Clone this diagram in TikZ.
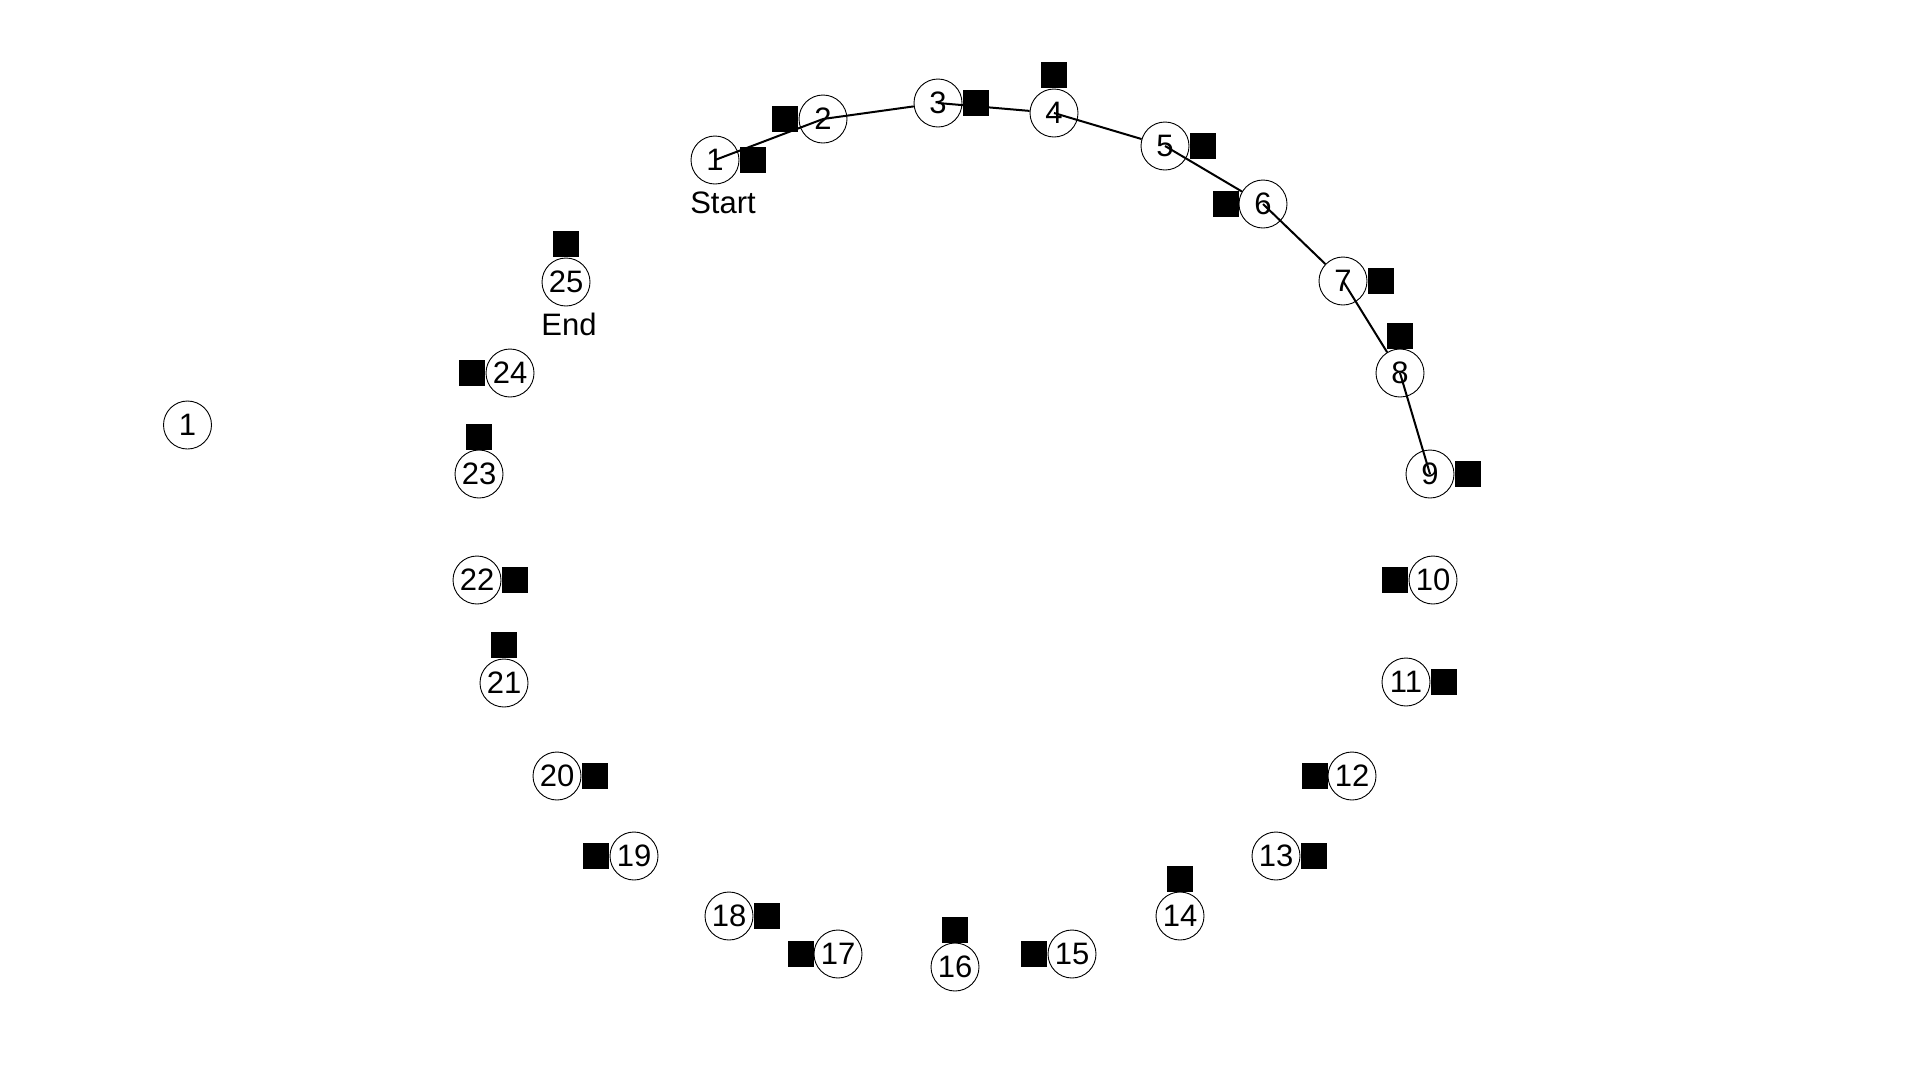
\documentclass[tikz,border=0pt]{standalone}
\usepackage{fontspec}
\setmainfont{Liberation Sans}
\tikzset{
  city/.style={circle, draw, line width=0.9pt, fill=white, minimum size=48pt, inner sep=0pt, font=\fontsize{31}{36}\selectfont},
  flag/.style={rectangle, fill=black, minimum size=25.5pt, inner sep=0pt},
  hop/.style={line width=2pt},
  tag/.style={inner sep=0pt, font=\fontsize{31}{36}\selectfont}
}
\begin{document}
\begin{tikzpicture}[x=1pt, y=-1pt]
            \useasboundingbox (0,0) rectangle (1920,1080);
            % squares
            \node[flag] (s1) at (753, 160) {};
            \node[flag] (s2) at (785, 119) {};
            \node[flag] (s3) at (976, 103) {};
            \node[flag] (s4) at (1054, 75) {};
            \node[flag] (s5) at (1203, 146) {};
            \node[flag] (s6) at (1226, 204) {};
            \node[flag] (s7) at (1381, 281) {};
            \node[flag] (s8) at (1400, 336) {};
            \node[flag] (s9) at (1468, 474) {};
            \node[flag] (s10) at (1395, 580) {};
            \node[flag] (s11) at (1444, 682) {};
            \node[flag] (s12) at (1315, 776) {};
            \node[flag] (s13) at (1314, 856) {};
            \node[flag] (s14) at (1180, 879) {};
            \node[flag] (s15) at (1034, 954) {};
            \node[flag] (s16) at (955, 930) {};
            \node[flag] (s17) at (801, 954) {};
            \node[flag] (s18) at (767, 916) {};
            \node[flag] (s19) at (596, 856) {};
            \node[flag] (s20) at (595, 776) {};
            \node[flag] (s21) at (504, 645) {};
            \node[flag] (s22) at (515, 580) {};
            \node[flag] (s23) at (479, 437) {};
            \node[flag] (s24) at (472, 373) {};
            \node[flag] (s25) at (566, 244) {};
            % cities
            \node[city] (n1) at (715, 160) {1};
            \node[city] (n2) at (823, 119) {2};
            \node[city] (n3) at (938, 103) {3};
            \node[city] (n4) at (1054, 113) {4};
            \node[city] (n5) at (1165, 146) {5};
            \node[city] (n6) at (1263, 204) {6};
            \node[city] (n7) at (1343, 281) {7};
            \node[city] (n8) at (1400, 373) {8};
            \node[city] (n9) at (1430, 474) {9};
            \node[city] (n10) at (1433, 580) {10};
            \node[city] (n11) at (1406, 682) {11};
            \node[city] (n12) at (1352, 776) {12};
            \node[city] (n13) at (1276, 856) {13};
            \node[city] (n14) at (1180, 916) {14};
            \node[city] (n15) at (1072, 954) {15};
            \node[city] (n16) at (955, 967) {16};
            \node[city] (n17) at (838, 954) {17};
            \node[city] (n18) at (729, 916) {18};
            \node[city] (n19) at (634, 856) {19};
            \node[city] (n20) at (557, 776) {20};
            \node[city] (n21) at (504, 683) {21};
            \node[city] (n22) at (477, 580) {22};
            \node[city] (n23) at (479, 474) {23};
            \node[city] (n24) at (510, 373) {24};
            \node[city] (n25) at (566, 282) {25};
            \node[city] (lone) at (187.5, 425) {1};
            \node[tag] (start) at (723, 203) {Start};
            \node[tag] (end) at (569, 324) {End};
            % tour so far
            \draw[hop] (n1.center) -- (n2.center);
            \draw[hop] (n2.center) -- (n3);
            \draw[hop] (n3.center) -- (n4);
            \draw[hop] (n4.center) -- (n5);
            \draw[hop] (n5.center) -- (n6);
            \draw[hop] (n6.center) -- (n7);
            \draw[hop] (n7.center) -- (n8);
            \draw[hop] (n8.center) -- (n9.center);
        \end{tikzpicture}
\end{document}
